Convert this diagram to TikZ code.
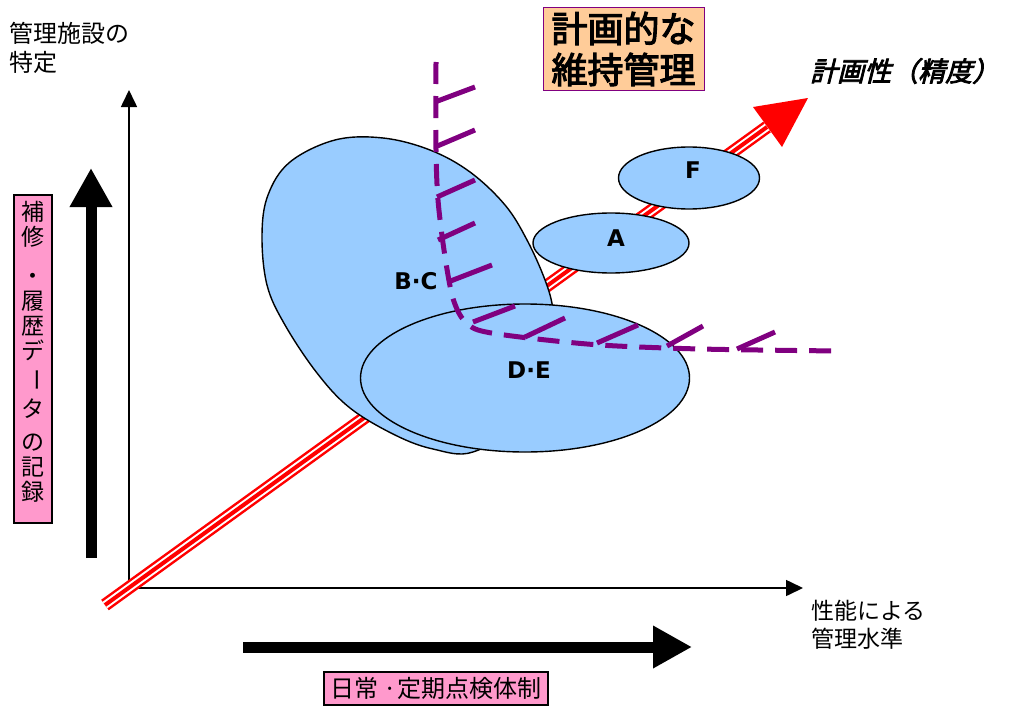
\documentclass[tikz,border=0pt]{standalone}
\usepackage{fontspec}
\usepackage{graphicx}
\usetikzlibrary{shapes.geometric,arrows.meta}
\setmainfont{DejaVu Sans}
\newfontfamily\jp{Noto Sans CJK JP}
\newfontfamily\jpb{Noto Sans CJK JP}[FakeBold=3]
\newfontfamily\jpbi{Noto Sans CJK JP}[FakeBold=3,FakeSlant=0.25]
\definecolor{ellblue}{HTML}{99CCFF}
\definecolor{pinkbox}{HTML}{FF99CC}
\definecolor{peach}{HTML}{FFCC99}
\definecolor{purp}{HTML}{800080}
\begin{document}
\begin{tikzpicture}[x=1pt,y=-1pt,
  ell/.style={ellipse, draw=black, line width=1.4pt, fill=ellblue, inner sep=0pt},
  lab/.style={font=\fontsize{23}{23}\selectfont\bfseries, inner sep=0pt},
  axisarrow/.style={line width=1.6pt, -{Triangle[length=17pt,width=16pt]}},
  bigarrow/.style={line width=11pt, -{Triangle[length=39pt,width=40pt]}},
  purpline/.style={purp, line width=5pt},
  pinkbox/.style={draw=black, line width=2.5pt, fill=pinkbox, inner sep=0pt}
]
\useasboundingbox (0,0) rectangle (1019,709);

% axes
\coordinate (O) at (129,588);
\coordinate (Ytip) at (129,90);
\coordinate (Xtip) at (803,588);
\draw[axisarrow] (O) -- (Ytip);
\draw[axisarrow] (O) -- (Xtip);

% red triple arrow
\coordinate (r0) at (105,605);
\coordinate (r1) at (767,127);
\coordinate (rt) at (808,98);
\coordinate (rb1) at (782,147);
\coordinate (rb2) at (753,107);
\draw[red, line width=13pt] (r0) -- (r1);
\draw[white, line width=8pt] (r0) -- (r1);
\draw[red, line width=4pt] (r0) -- (r1);
\fill[red] (rt) -- (rb1) -- (rb2) -- cycle;

% B-C blob
\draw[fill=ellblue, line width=1.4pt] plot[smooth cycle, tension=0.6] coordinates {
 (262,235) (268,195) (290,162) (335,140) (383,138) (430,150) (470,172) (505,205)
 (527,240) (545,280) (553,310) (553,345) (520,420) (473,452) (433,449) (395,435)
 (350,408) (317,373) (285,325) (267,285)};

% ellipses
\node[ell, minimum width=329pt, minimum height=148pt] (DE) at (525,378) {};
\node[ell, minimum width=156pt, minimum height=60pt] (A) at (611,243) {};
\node[ell, minimum width=141pt, minimum height=62pt] (F) at (689,178) {};

% purple dashed line with ticks
\draw[purpline, dash pattern=on 22pt off 12pt] plot[smooth, tension=0.5] coordinates {
 (436,62) (436,150) (438,200) (444,250) (452,295) (462,318) (478,330) (520,337)
 (600,345) (700,349) (838,351)};
\foreach \a/\b in {{(435,102)}/{(475,87)}, {(435,147)}/{(475,130)}, {(437,197)}/{(475,180)},
  {(438,240)}/{(475,223)}, {(448,282)}/{(492,265)}, {(473,322)}/{(515,306)},
  {(525,337)}/{(565,318)}, {(597,343)}/{(638,325)}, {(667,346)}/{(703,326)},
  {(737,349)}/{(775,332)}}
  \draw[purpline] \a -- \b;

% labels in shapes
\node[lab] (lF) at (693,170) {F};
\node[lab] (lA) at (616,238) {A};
\node[lab] (lBC) at (416,281) {B·C};
\node[lab] (lDE) at (529,370) {D·E};

% title box
\node[draw=purp, line width=1pt, fill=peach, minimum width=161pt, minimum height=82pt,
  inner sep=0pt, align=center, font=\jpb\fontsize{36}{41}\selectfont] (title) at (623.5,49) {計画的な\\維持管理};

% arrow label
\node[anchor=west, inner sep=0pt, font=\jpbi\fontsize{27}{27}\selectfont] (prec) at (810,71) {計画性（精度）};

% axis labels
\node[anchor=north west, inner sep=0pt, align=left, font=\jp\fontsize{24}{29}\selectfont] (ylab) at (9,22) {管理施設の\\特定};
\node[anchor=north west, inner sep=0pt, align=left, font=\jp\fontsize{23}{28}\selectfont] (xlab) at (811,600) {性能による\\管理水準};

% big arrows
\coordinate (va0) at (91,558);
\coordinate (va1) at (91,168);
\coordinate (ha0) at (243,647);
\coordinate (ha1) at (692,647);
\draw[bigarrow] (va0) -- (va1);
\draw[bigarrow] (ha0) -- (ha1);

% pink boxes
\node[pinkbox, minimum width=38pt, minimum height=328pt] (vbox) at (33,359) {};
\node[inner sep=0pt, align=center, font=\jp\fontsize{23}{25}\selectfont, anchor=north] (vtext) at (33,201)
 {補\\修\\[14pt]・\\履\\歴\\デ\\\rotatebox[origin=c]{-90}{ー}\\[7pt]タ\\[8pt]の\\記\\録};
\node[pinkbox, minimum width=224pt, minimum height=33pt, font=\jp\fontsize{24}{24}\selectfont] (hbox) at (436,688.5) {日常 ·定期点検体制};
\end{tikzpicture}
\end{document}
